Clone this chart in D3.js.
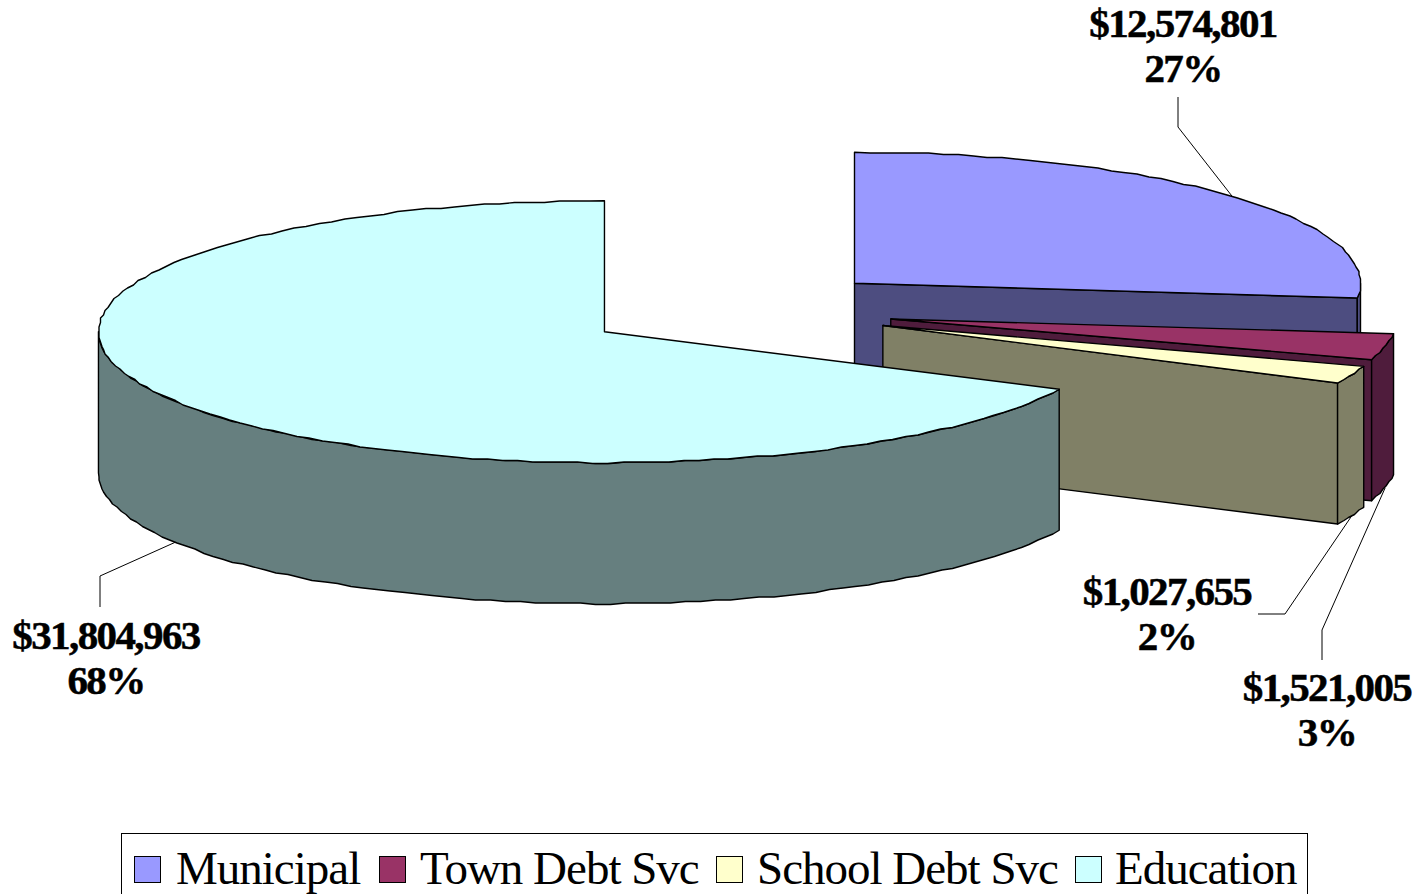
<!DOCTYPE html>
<html>
<head>
<meta charset="utf-8">
<style>
body { margin: 0; background: #fff; }
svg { display: block; }
text { font-family: "Liberation Serif", serif; fill: #000; }
</style>
<script src="https://cdn.jsdelivr.net/npm/d3@7"></script>
</head>
<body>
<div id="chart"></div>
<script>
var categories = ["Municipal", "Town Debt Svc", "School Debt Svc", "Education"];
var values = [12574801, 1521005, 1027655, 31804963];
var topColors = ["#9999ff", "#993366", "#ffffcc", "#ccffff"];
var sideColors = ["#4d4d80", "#4f1c3c", "#808066", "#667f7f"];

var width = 1420,
    height = 894,
    cx = 737.5,
    cy = 310.3,
    rx = 506,
    ry = 131,
    depth = 141,
    explode = 0.31,
    snap = 1.5;

// label blocks: knee points of the leader lines and where the text sits
var labelPos = [
    { knees: [[1178, 127], [1178, 97]], x: 1183, y: 37 },
    { knees: [[1322, 630], [1322, 660]], x: 1327, y: 701 },
    { knees: [[1285, 614], [1258, 614]], x: 1167, y: 605 },
    { knees: [[100, 576], [100, 607]], x: 106, y: 649 }
];
var legendPos = [
    { key: 134, text: 176 },
    { key: 379, text: 420 },
    { key: 716, text: 757 },
    { key: 1075, text: 1115 }
];

var svg = d3.select("#chart").append("svg")
    .attr("width", width)
    .attr("height", height);

var total = d3.sum(values);
var pct = d3.format(".0%");
var dollars = d3.format("$,");

var slices = d3.pie().sort(null).value(function(d) { return d; })(values);
slices.forEach(function(s) {
    var mid = (s.startAngle + s.endAngle) / 2;
    s.cx = cx + explode * rx * Math.sin(mid);
    s.cy = cy - explode * ry * Math.cos(mid);
    s.mid = mid;
});

function rim(s, a, dy) {
    return [s.cx + rx * Math.sin(a), s.cy - ry * Math.cos(a) + (dy || 0)];
}

// the original outline is slightly coarse, so the curve is stepped onto a grid
function arcPoints(s, a0, a1, dy) {
    var n = Math.max(2, Math.ceil((a1 - a0) / 0.03));
    return d3.range(n + 1).map(function(i) {
        var p = rim(s, a0 + (a1 - a0) * i / n, dy);
        if (i === 0 || i === n) return p;
        return [Math.round(p[0] / snap) * snap, Math.round(p[1] / snap) * snap];
    });
}

var line = d3.line();

var pie = svg.append("g").attr("class", "pie");

function face(g, pts, fill) {
    g.append("path")
        .attr("d", line(pts) + "Z")
        .attr("fill", fill)
        .attr("stroke", "#000")
        .attr("stroke-width", 1.4)
        .attr("stroke-linejoin", "round");
}

slices.forEach(function(s, i) {
    var g = pie.append("g").attr("class", "slice");

    // cut face at the end angle, only faces the viewer on the right half
    if (s.endAngle < Math.PI) {
        var end = rim(s, s.endAngle);
        face(g, [[s.cx, s.cy], end, [end[0], end[1] + depth], [s.cx, s.cy + depth]], sideColors[i]);
    }

    // outer wall, front half of the ellipse only
    var a0 = Math.max(s.startAngle, Math.PI / 2),
        a1 = Math.min(s.endAngle, 3 * Math.PI / 2);
    if (a1 > a0) {
        face(g, arcPoints(s, a0, a1, 0).concat(arcPoints(s, a0, a1, depth).reverse()), sideColors[i]);
    }

    face(g, [[s.cx, s.cy]].concat(arcPoints(s, s.startAngle, s.endAngle, 0)), topColors[i]);
});

// leader lines and value labels
slices.forEach(function(s, i) {
    var front = s.mid > Math.PI / 2 && s.mid < 3 * Math.PI / 2;
    var anchor = rim(s, s.mid, front ? depth : 0);
    svg.append("path")
        .attr("d", line([anchor].concat(labelPos[i].knees)))
        .attr("fill", "none")
        .attr("stroke", "#000")
        .attr("stroke-width", 1);

    var t = svg.append("text")
        .attr("text-anchor", "middle")
        .attr("font-size", 41)
        .attr("font-weight", "bold")
        .attr("letter-spacing", -1.6)
        .attr("stroke", "#000")
        .attr("stroke-width", 0.5);
    t.append("tspan")
        .attr("x", labelPos[i].x)
        .attr("y", labelPos[i].y)
        .text(dollars(values[i]));
    t.append("tspan")
        .attr("x", labelPos[i].x)
        .attr("y", labelPos[i].y + 45)
        .text(pct(values[i] / total));
});

// legend
svg.append("rect")
    .attr("x", 121.5)
    .attr("y", 833.5)
    .attr("width", 1186)
    .attr("height", 70)
    .attr("fill", "#fff")
    .attr("stroke", "#000")
    .attr("stroke-width", 1);

var legend = svg.selectAll(".legendItem")
    .data(categories)
    .enter().append("g")
    .attr("class", "legendItem");

legend.append("rect")
    .attr("x", function(d, i) { return legendPos[i].key + 0.5; })
    .attr("y", 856.5)
    .attr("width", 26)
    .attr("height", 26)
    .attr("fill", function(d, i) { return topColors[i]; })
    .attr("stroke", "#000")
    .attr("stroke-width", 1);

legend.append("text")
    .attr("x", function(d, i) { return legendPos[i].text; })
    .attr("y", 884)
    .attr("font-size", 47)
    .attr("letter-spacing", -1)
    .text(function(d) { return d; });
</script>
</body>
</html>
